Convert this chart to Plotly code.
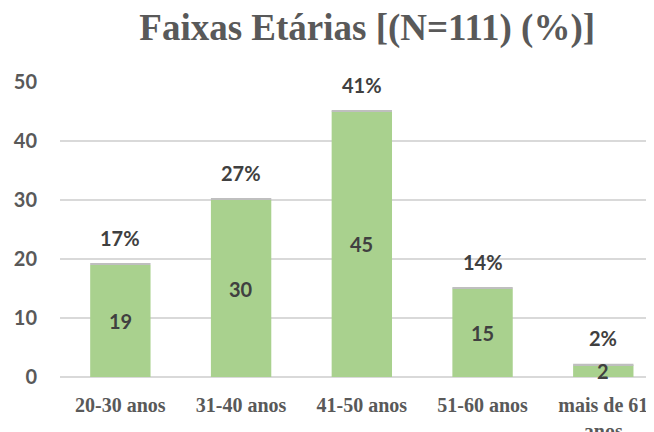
import plotly.graph_objects as go

faixas = ["20-30 anos", "31-40 anos", "41-50 anos", "51-60 anos", "mais de 61<br>anos"]
contagem = [19, 30, 45, 15, 2]
percentual = ["17%", "27%", "41%", "14%", "2%"]

cinza = "#595959"
verde = "#A9D18E"

fig = go.Figure()
fig.add_trace(go.Bar(x=faixas, y=contagem, marker=dict(color=verde, line_width=0),
                     width=0.5, hoverinfo="x+y"))
# fine grey cap on top of each bar
fig.add_trace(go.Bar(x=faixas, y=[0.25] * len(faixas), base=contagem,
                     marker=dict(color="#BFBFBF", line_width=0), width=0.5, hoverinfo="skip"))

for f, c, p in zip(faixas, contagem, percentual):
    fig.add_annotation(x=f, y=c / 2, text=str(c), showarrow=False,
                       font=dict(family="Lato", size=20, color="#404040", weight="bold"))
    fig.add_annotation(x=f, y=c, text=p, showarrow=False, yanchor="bottom", yshift=13,
                       font=dict(family="Lato", size=20, color="#404040", weight="bold"))

# page body adds 8px offset, so the figure is a bit smaller than the window
fig.update_layout(
    width=646, height=424,
    margin=dict(l=52, r=0, t=74, b=55),
    plot_bgcolor="white", paper_bgcolor="white",
    showlegend=False, barmode="overlay",
    title=dict(text="Faixas Etárias [(N=111) (%)]", x=0.556, xanchor="center", y=0.955, yanchor="middle",
               font=dict(family="Liberation Serif", size=37, color=cinza, weight="bold")),
    xaxis=dict(range=[-0.5, 4.42], showgrid=False, showline=False, ticks="",
               ticklabelstandoff=14, automargin=False,
               tickfont=dict(family="Liberation Serif", size=20, color=cinza, weight="bold")),
    yaxis=dict(range=[0, 50], dtick=10, showgrid=True, gridcolor="#D9D9D9", gridwidth=1.5,
               zeroline=True, zerolinecolor="#D9D9D9", zerolinewidth=1.5, ticks="",
               ticklabelstandoff=22, automargin=False,
               tickfont=dict(family="Lato", size=20, color=cinza, weight="bold")),
)

fig.write_html("out.html")
